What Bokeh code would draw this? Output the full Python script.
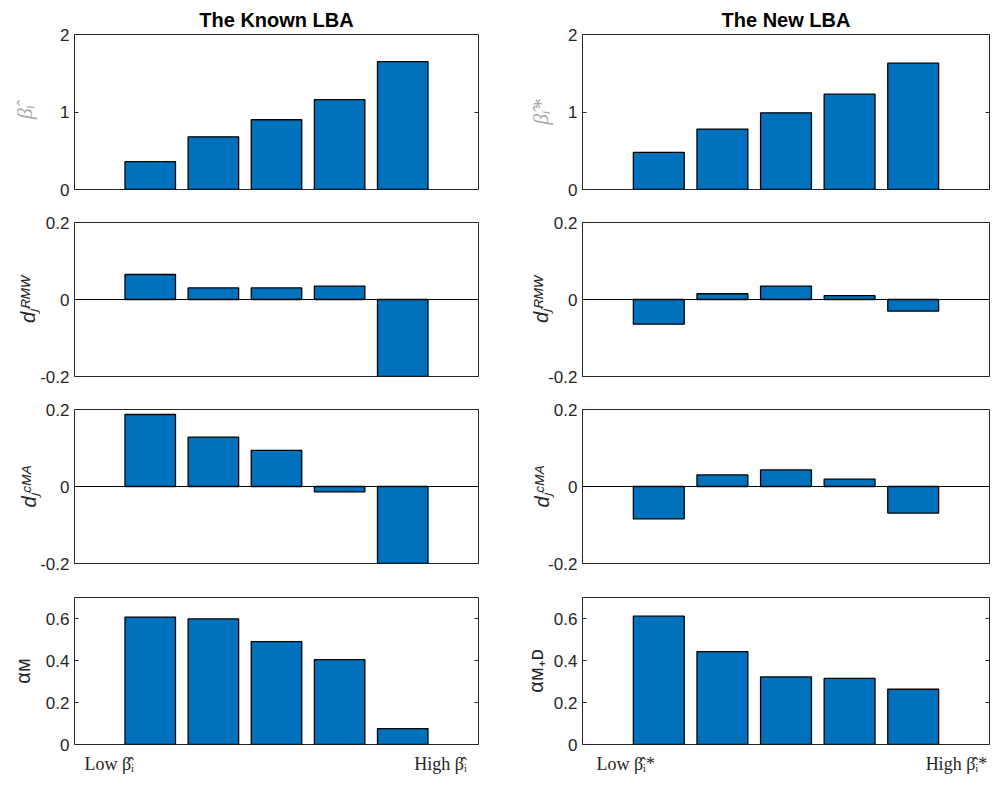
import numpy as np
from bokeh.plotting import figure
from bokeh.models import Range1d, FixedTicker, LinearAxis, Span
from bokeh.layouts import column, row
from bokeh.embed import file_html
from bokeh.resources import INLINE

# ---------------- data ----------------
portfolios = [1, 2, 3, 4, 5]

known_beta = [0.36, 0.68, 0.90, 1.16, 1.65]
new_beta = [0.48, 0.78, 0.99, 1.23, 1.63]
known_rmw = [0.065, 0.030, 0.030, 0.035, -0.20]
new_rmw = [-0.064, 0.015, 0.035, 0.010, -0.030]
known_cma = [0.187, 0.128, 0.094, -0.014, -0.20]
new_cma = [-0.084, 0.030, 0.043, 0.019, -0.069]
known_alpha = [0.607, 0.598, 0.490, 0.404, 0.076]
new_alpha = [0.611, 0.442, 0.322, 0.315, 0.263]

beta_ticks = [0, 1, 2]
beta_tick_labels = ["0", "1", "2"]
d_ticks = [-0.2, 0, 0.2]
d_tick_labels = ["-0.2", "0", "0.2"]
alpha_ticks = [0, 0.2, 0.4, 0.6]
alpha_tick_labels = ["0", "0.2", "0.4", "0.6"]

beta_limits = [0, 2]
d_limits = [-0.2, 0.2]
alpha_limits = [0, 0.7]
x_limits = [-0.2, 6.2]

column_titles = ["The Known LBA", "The New LBA"]
y_labels_known = ["β̂ᵢ", "dⱼᴿᴹᵂ", "dⱼᶜᴹᴬ", "αᴍ"]
y_labels_new = ["β̂ᵢ*", "dⱼᴿᴹᵂ", "dⱼᶜᴹᴬ", "αᴍ₊ᴅ"]
x_label_pos_known = [0.35, 5.6]
x_label_pos_new = [0.48, 5.68]
x_labels_known = ["Low β̂ᵢ", "High β̂ᵢ"]
x_labels_new = ["Low β̂ᵢ*", "High β̂ᵢ*"]

# ---------------- style / layout ----------------
BAR = "#0072BD"
AX = "#262626"
SANS = "Liberation Sans"
SERIF = "Liberation Serif"

COLS = [dict(bl=74, fw=404, br=40), dict(bl=64, fw=407, br=6)]
ROWS = [(34, 155, 16), (17, 154, 16), (17, 154, 16), (18, 153, 26)]
# axis-label standoff per row, per column
LABEL_STANDOFF = [(20, 12), (-2, -7), (-3, -8), (9, 4)]


def panel(ci, ri, values, limits, ticks, tick_labels, ylab):
    c = COLS[ci]
    bt, fh, bb = ROWS[ri]
    p = figure(width=c["bl"] + c["fw"] + c["br"], height=bt + fh + bb,
               x_range=Range1d(*x_limits), y_range=Range1d(*limits),
               output_backend="svg", toolbar_location=None,
               x_axis_location=None, y_axis_location="left",
               min_border_left=c["bl"], min_border_right=c["br"],
               min_border_top=bt, min_border_bottom=bb)
    p.grid.visible = False
    p.outline_line_color = AX
    p.outline_line_width = 1
    p.background_fill_color = "white"
    p.border_fill_color = "white"

    ax = p.yaxis[0]
    ax.ticker = FixedTicker(ticks=ticks)
    ax.major_label_overrides = {t: l for t, l in zip(ticks, tick_labels)}
    ax.major_tick_in = 4
    ax.major_tick_out = 0
    ax.minor_tick_line_color = None
    ax.axis_line_color = None
    ax.major_tick_line_color = AX
    ax.major_label_standoff = 5
    ax.major_label_text_font = SANS
    ax.major_label_text_font_size = "17px"
    ax.major_label_text_color = AX
    ax.axis_label = ylab
    ax.axis_label_standoff = LABEL_STANDOFF[ri][ci]
    if ri == 0:
        ax.axis_label_text_font = SERIF
        ax.axis_label_text_font_style = "italic"
        ax.axis_label_text_font_size = "22px"
        ax.axis_label_text_color = "#a8a8a8"
    elif ri in (1, 2):
        ax.axis_label_text_font = SANS
        ax.axis_label_text_font_style = "italic"
        ax.axis_label_text_font_size = "20px"
        ax.axis_label_text_color = AX
    else:
        ax.axis_label_text_font = SANS
        ax.axis_label_text_font_style = "normal"
        ax.axis_label_text_font_size = "20px"
        ax.axis_label_text_color = AX

    rax = LinearAxis(ticker=FixedTicker(ticks=ticks))
    rax.major_label_overrides = {t: "" for t in ticks}
    rax.major_label_text_color = None
    rax.major_label_standoff = 0
    rax.major_tick_in = 4
    rax.major_tick_out = 0
    rax.minor_tick_line_color = None
    rax.axis_line_color = None
    rax.major_tick_line_color = AX
    p.add_layout(rax, "right")

    p.vbar(x=portfolios, top=values, width=0.8, fill_color=BAR,
           line_color="black", line_width=1.3)
    if limits[0] < 0:
        p.add_layout(Span(location=0, dimension="width", line_color="black", line_width=1))

    if ri == 0:
        p.title.text = column_titles[ci]
        p.title.align = "center"
        p.title.text_font = SANS
        p.title.text_font_style = "bold"
        p.title.text_font_size = "20px"
        p.title.text_color = "black"
        p.title.standoff = 7

    if ri == 3:
        pos = x_label_pos_known if ci == 0 else x_label_pos_new
        labs = x_labels_known if ci == 0 else x_labels_new
        bax = LinearAxis(ticker=FixedTicker(ticks=pos))
        bax.major_label_overrides = {t: l for t, l in zip(pos, labs)}
        bax.major_tick_line_color = None
        bax.minor_tick_line_color = None
        bax.axis_line_color = None
        bax.major_label_standoff = 3
        bax.major_label_text_font = SERIF
        bax.major_label_text_font_size = "18px"
        bax.major_label_text_color = AX
        p.add_layout(bax, "below")
    return p


data_rows = [
    (known_beta, new_beta, beta_limits, beta_ticks, beta_tick_labels),
    (known_rmw, new_rmw, d_limits, d_ticks, d_tick_labels),
    (known_cma, new_cma, d_limits, d_ticks, d_tick_labels),
    (known_alpha, new_alpha, alpha_limits, alpha_ticks, alpha_tick_labels),
]

rows_out = []
for ri, (kv, nv, lim, tk, tl) in enumerate(data_rows):
    left = panel(0, ri, kv, lim, tk, tl, y_labels_known[ri])
    right = panel(1, ri, nv, lim, tk, tl, y_labels_new[ri])
    rows_out.append(row(left, right, spacing=0))

layout = column(*rows_out, spacing=0)
open("out.html", "w").write(file_html(layout, INLINE))
